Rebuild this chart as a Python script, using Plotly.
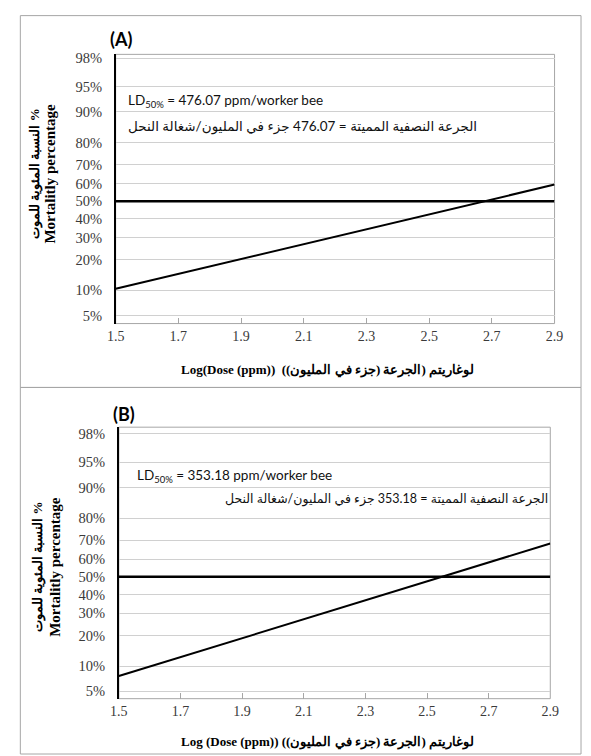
import math
from statistics import NormalDist
import plotly.graph_objects as go

W, H = 591, 756

# Log10 dose span and x tick marks
dose_log_range = [1.5, 2.9]
x_ticks = [1.5, 1.7, 1.9, 2.1, 2.3, 2.5, 2.7, 2.9]

# Mortality percentages marked on the probit axis
mortality_ticks = [5, 10, 20, 30, 40, 50, 60, 70, 80, 90, 95, 98]

# Probit regression lines: LD50 (ppm / worker bee) and slope (probits per log10 unit)
ld50_a = 476.07
slope_a = 1.07
ld50_b = 353.18
slope_b = 1.36

# Reference mortality level
ref_mortality = 50


def probit(pct):
    return NormalDist().inv_cdf(pct / 100.0)


def px(x):
    return x / W


def py(y):
    return 1 - y / H


tick_probits = [probit(p) for p in mortality_ticks]
tick_labels = [f"{p}%" for p in mortality_ticks]

serif = "Liberation Serif, Times New Roman, DejaVu Serif, serif"
sans = "Lato, Carlito, DejaVu Sans, sans-serif"

fig = go.Figure()

panels = [
    ("x", "y", ld50_a, slope_a),
    ("x2", "y2", ld50_b, slope_b),
]
for xa, ya, ld50, slope in panels:
    # horizontal 50 % line
    fig.add_trace(go.Scatter(
        x=dose_log_range, y=[probit(ref_mortality)] * len(dose_log_range),
        mode="lines", line=dict(color="black", width=2.5),
        xaxis=xa, yaxis=ya, showlegend=False, hoverinfo="skip"))
    # probit regression line through log10(LD50)
    fig.add_trace(go.Scatter(
        x=dose_log_range,
        y=[slope * (d - math.log10(ld50)) for d in dose_log_range],
        mode="lines", line=dict(color="black", width=2),
        xaxis=xa, yaxis=ya, showlegend=False))

xaxis_common = dict(
    range=dose_log_range, tickvals=x_ticks,
    ticktext=[f"{v:.1f}" for v in x_ticks],
    ticks="inside", ticklen=6, tickwidth=1, tickcolor="#a6a6a6",
    showgrid=False, zeroline=False, showline=False,
    tickfont=dict(family=serif, size=14, color="#3a3a3a"),
    ticklabelstandoff=2, fixedrange=True,
)
yaxis_common = dict(
    tickvals=tick_probits, ticktext=tick_labels,
    showgrid=True, gridcolor="#d0d0d0", gridwidth=1,
    showline=True, linecolor="black", linewidth=1.5,
    ticks="", zeroline=False,
    tickfont=dict(family=serif, size=14.5, color="#3a3a3a"),
    ticklabelstandoff=9, fixedrange=True,
)

fig.update_layout(
    width=W, height=H,
    margin=dict(l=0, r=0, t=0, b=0),
    paper_bgcolor="white", plot_bgcolor="white",
    xaxis=dict(domain=[px(110), px(562.7)], anchor="y", **xaxis_common),
    yaxis=dict(domain=[py(321.7), py(50.7)], anchor="x", range=[-1.76, 2.11], **yaxis_common),
    xaxis2=dict(domain=[px(113.3), px(558.3)], anchor="y2", **xaxis_common),
    yaxis2=dict(domain=[py(699.3), py(426)], anchor="x2", range=[-1.75, 2.15], **yaxis_common),
)

shapes = []
# plot-area frames
for xa, ya in [("x", "y"), ("x2", "y2")]:
    shapes.append(dict(type="rect", xref=f"{xa} domain", yref=f"{ya} domain",
                       x0=0, x1=1, y0=0, y1=1, layer="below",
                       line=dict(color="#a6a6a6", width=1)))
# panel frames
shapes.append(dict(type="rect", xref="paper", yref="paper",
                   x0=px(11.7), x1=px(590), y0=py(386), y1=py(11.7),
                   line=dict(color="#a6a6a6", width=1)))
shapes.append(dict(type="rect", xref="paper", yref="paper",
                   x0=px(11.7), x1=px(590), y0=py(755), y1=py(386),
                   line=dict(color="#a6a6a6", width=1)))
fig.update_layout(shapes=shapes)


def note(text, x, y, xanchor="left", size=14, family=sans, bold=False, angle=0, color="#111111"):
    if bold:
        text = f"<b>{text}</b>"
    fig.add_annotation(text=text, x=px(x), y=py(y), xref="paper", yref="paper",
                       xanchor=xanchor, yanchor="middle", showarrow=False,
                       textangle=angle, font=dict(family=family, size=size, color=color))


nb = "\u00a0"

# panel A
note("(A)", 102, 35, size=18, bold=True, color="black")
note(f"LD<sub>50%</sub> = {ld50_a:.2f} ppm/worker bee", 121, 98, size=13.5)
note(f"الجرعة النصفية المميتة = {ld50_a:.2f} جزء في المليون/شغالة النحل", 485, 123,
     xanchor="right", size=13.5)
note("النسبة المئوية للموت %", 27, 171, xanchor="center", size=13, family=serif, bold=True, angle=-90, color="black")
note("Mortalitly percentage", 42, 171, xanchor="center", size=15, family=serif, bold=True, angle=-90, color="black")
note(f"Log(Dose (ppm)){nb}{nb}لوغاريتم (الجرعة (جزء في المليون))", 329, 368,
     xanchor="center", size=13, family=serif, bold=True, color="black")

# panel B
note("(B)", 105, 413, size=18, bold=True, color="black")
note(f"LD<sub>50%</sub> = {ld50_b:.2f} ppm/worker bee", 130, 475, size=13.5)
note(f"الجرعة النصفية المميتة = {ld50_b:.2f} جزء في المليون/شغالة النحل", 558, 498,
     xanchor="right", size=12.5)
note("النسبة المئوية للموت %", 30, 567, xanchor="center", size=13, family=serif, bold=True, angle=-90, color="black")
note("Mortalitly percentage", 48, 567, xanchor="center", size=15, family=serif, bold=True, angle=-90, color="black")
note(f"Log (Dose (ppm)){nb}لوغاريتم (الجرعة (جزء في المليون))", 328, 743,
     xanchor="center", size=13, family=serif, bold=True, color="black")

fig.write_html("out.html")
